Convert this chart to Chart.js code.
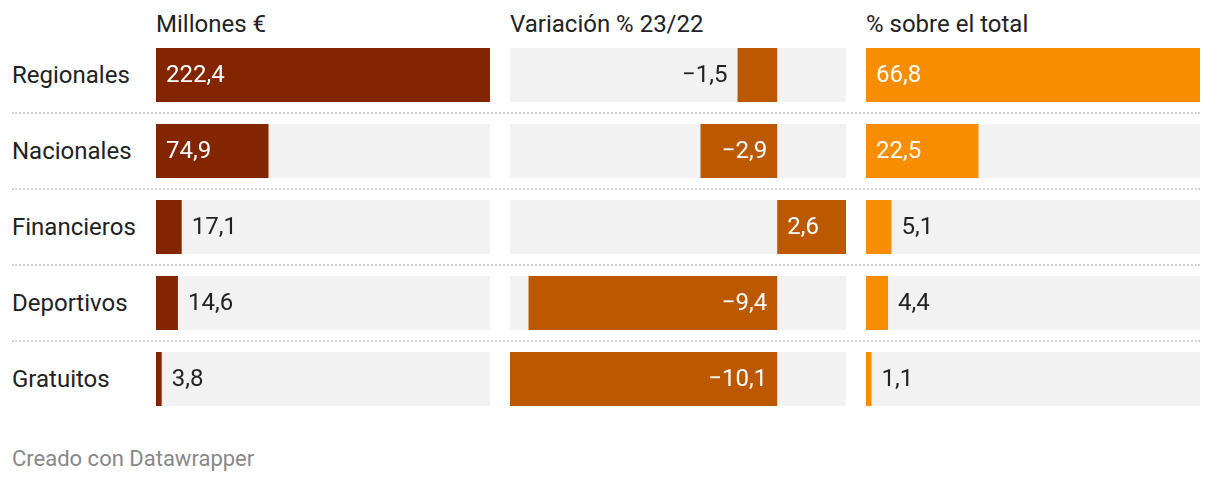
<!DOCTYPE html>
<html><head><meta charset="utf-8">
<script src="https://cdn.jsdelivr.net/npm/chart.js@4"></script>
<style>
html,body{margin:0;padding:0;background:#fff;width:1220px;height:482px;overflow:hidden;font-family:Roboto,sans-serif;}
.abs{position:absolute;white-space:nowrap;}
.hdr{font-size:24px;color:#222;top:10px;line-height:28px;}
.row{font-size:24px;color:#222;left:12px;line-height:28px;}
.sep{left:12px;width:1188px;height:0;border-top:2px dotted #d4d4d4;}
.foot{left:12px;top:446px;font-size:22px;line-height:26px;color:#888;}
canvas{position:absolute;}
</style></head><body>
<script>
const categories = ['Regionales','Nacionales','Financieros','Deportivos','Gratuitos'];
const millones = [222.4, 74.9, 17.1, 14.6, 3.8];
const variacion = [-1.5, -2.9, 2.6, -9.4, -10.1];
const porcentaje = [66.8, 22.5, 5.1, 4.4, 1.1];
const headers = ['Millones €', 'Variación % 23/22', '% sobre el total'];
const footerText = 'Creado con Datawrapper';

const TOP = 37, BAND = 76, H = BAND * categories.length;
const columns = [
  {values: millones, color: '#832600', left: 156, width: 334},
  {values: variacion, color: '#bb5800', left: 510, width: 336},
  {values: porcentaje, color: '#f98d00', left: 866, width: 334}
];

function fmt(v){ return v.toFixed(1).replace('.', ',').replace('-', '\u2212'); }

function addDiv(cls, text, styles){
  const d = document.createElement('div');
  d.className = 'abs ' + cls;
  d.textContent = text;
  Object.assign(d.style, styles);
  document.body.appendChild(d);
  return d;
}

columns.forEach((c, i) => addDiv('hdr', headers[i], {left: c.left + 'px'}));
categories.forEach((c, i) => addDiv('row', c, {top: (TOP + BAND * i + BAND / 2 - 14) + 'px'}));
for (let i = 1; i < categories.length; i++) addDiv('sep', '', {top: (TOP + BAND * i - 1) + 'px'});
addDiv('foot', footerText, {});

const labelPlugin = {
  id: 'valueLabels',
  afterDatasetsDraw(chart){
    const ctx = chart.ctx;
    const meta = chart.getDatasetMeta(1);
    const vals = chart.data.datasets[1].data;
    ctx.save();
    ctx.font = '24px Roboto';
    ctx.textBaseline = 'middle';
    meta.data.forEach((el, i) => {
      const v = vals[i];
      const txt = fmt(v);
      const tw = ctx.measureText(txt).width;
      const bw = Math.abs(el.x - el.base);
      const inside = tw + 20 <= bw;
      const y = el.y + 1;
      ctx.fillStyle = inside ? '#ffffff' : '#222222';
      if (v >= 0) {
        ctx.textAlign = 'left';
        ctx.fillText(txt, inside ? el.base + 10 : el.x + 10, y);
      } else {
        ctx.textAlign = 'right';
        ctx.fillText(txt, inside ? el.base - 10 : el.x - 10, y);
      }
    });
    ctx.restore();
  }
};

columns.forEach((c) => {
  const cv = document.createElement('canvas');
  cv.width = c.width; cv.height = H;
  cv.style.left = c.left + 'px'; cv.style.top = TOP + 'px';
  cv.style.width = c.width + 'px'; cv.style.height = H + 'px';
  document.body.appendChild(cv);
  const lo = Math.min(0, ...c.values), hi = Math.max(0, ...c.values);
  new Chart(cv, {
    type: 'bar',
    data: {
      labels: categories,
      datasets: [
        {data: categories.map(() => [lo, hi]), backgroundColor: '#f2f2f2', grouped: false, order: 2,
         barPercentage: 54 / 76, categoryPercentage: 1, borderWidth: 0, inflateAmount: 0},
        {data: c.values, backgroundColor: c.color, grouped: false, order: 1,
         barPercentage: 54 / 76, categoryPercentage: 1, borderWidth: 0, inflateAmount: 0}
      ]
    },
    options: {
      indexAxis: 'y',
      responsive: false,
      animation: false,
      devicePixelRatio: 1,
      layout: {padding: 0},
      plugins: {legend: {display: false}, tooltip: {enabled: false}},
      scales: {
        x: {type: 'linear', min: lo, max: hi, display: false},
        y: {display: false}
      }
    },
    plugins: [labelPlugin]
  });
});
</script>
</body></html>
